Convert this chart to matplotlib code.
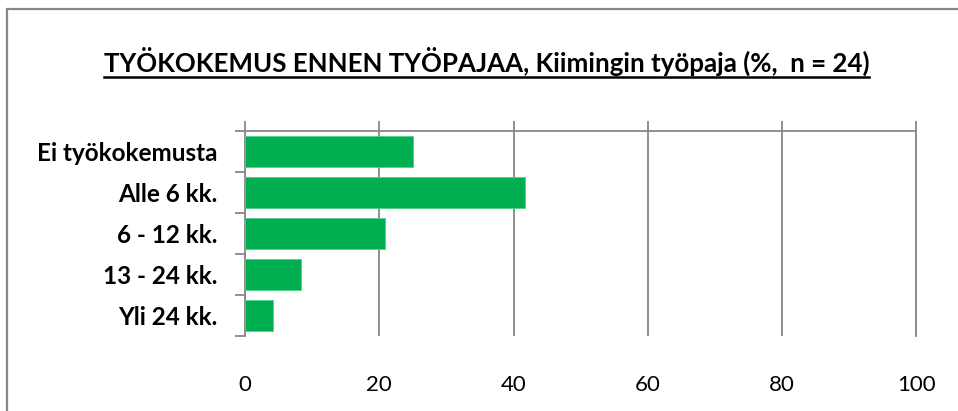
import matplotlib
matplotlib.use("Agg")
import matplotlib.pyplot as plt
import numpy as np
from matplotlib.patches import Rectangle
from matplotlib.lines import Line2D

categories = ["Ei työkokemusta", "Alle 6 kk.", "6 - 12 kk.", "13 - 24 kk.", "Yli 24 kk."]
values = [25.0, 41.7, 20.8, 8.3, 4.2]
xticks = [0, 20, 40, 60, 80, 100]
title = "TYÖKOKEMUS ENNEN TYÖPAJAA, Kiimingin työpaja (%,  n = 24)"

plt.rcParams['font.family'] = ['Lato', 'DejaVu Sans']

W, H = 958, 411
fig = plt.figure(figsize=(W / 100, H / 100), dpi=100)

grid_c = "#878787"
# outer frame
fig.patches.append(Rectangle((7 / W, -0.2), 1.5, (H - 9) / H + 0.2, transform=fig.transFigure,
                             fill=False, edgecolor=grid_c, linewidth=1.6))

ax_l, ax_r, ax_t, ax_b = 245, 916.5, 131, 336
ax = fig.add_axes([ax_l / W, 1 - ax_b / H, (ax_r - ax_l) / W, (ax_b - ax_t) / H])

y = np.arange(len(categories))
ax.barh(y, values, height=0.75, color="#00B050", edgecolor="#4fd08a", linewidth=0.6, zorder=3)
ax.set_xlim(0, 100)
ax.set_ylim(len(categories) - 0.5, -0.5)

ax.set_xticks(xticks)
ax.set_xticklabels([str(t) for t in xticks], fontsize=16, color="#000000")
ax.tick_params(axis='x', bottom=False, top=True, labelbottom=True, labeltop=False,
               length=7, width=1.3, color=grid_c, direction='out', pad=21)
ax.xaxis.grid(True, color=grid_c, linewidth=1.3, zorder=0)

ax.set_yticks(np.arange(len(categories) + 1) - 0.5)
ax.set_yticklabels([])
ax.tick_params(axis='y', which='major', length=7, width=1.3, color=grid_c, direction='out')
ax.set_yticks(y, minor=True)
ax.set_yticklabels(categories, minor=True, fontsize=17.5, fontweight='bold')
ax.tick_params(axis='y', which='minor', length=0, pad=20)

for s in ['bottom']:
    ax.spines[s].set_visible(False)
for s in ['top', 'left', 'right']:
    ax.spines[s].set_color(grid_c)
    ax.spines[s].set_linewidth(1.3)

t = fig.text(486.5 / W, 1 - 61 / H, title, ha='center', va='center', fontsize=18.6, fontweight='bold')
fig.canvas.draw()
bb = t.get_window_extent()
uy = bb.y0 - 1
fig.add_artist(Line2D([bb.x0 / W, bb.x1 / W], [uy / H, uy / H], transform=fig.transFigure,
                      color='black', linewidth=1.8))

fig.savefig("out.png", dpi=100)
